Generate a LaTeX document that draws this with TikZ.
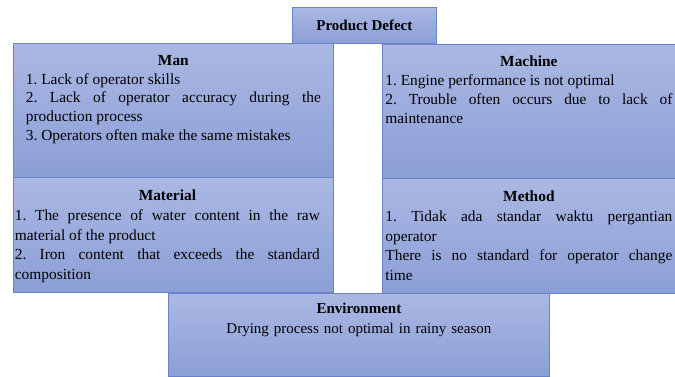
\documentclass[tikz,border=0pt]{standalone}
\usepackage{fontspec}
\setmainfont{Liberation Serif}
\usetikzlibrary{positioning}
\frenchspacing
\begin{document}
\begin{tikzpicture}[x=1pt, y=1pt,
  catbox/.style={draw=boxline, line width=0.8pt, top color=boxtop, bottom color=boxbot, anchor=north west, inner sep=0pt},
  cattext/.style={anchor=north, inner sep=0pt, align=justify, font=\rmfamily\fontsize{15.4}{18.8}\selectfont}]
\definecolor{boxtop}{HTML}{ABB8E3}
\definecolor{boxbot}{HTML}{8B9ED6}
\definecolor{boxline}{HTML}{6A82C8}
\useasboundingbox (0,0) rectangle (675,-376);
\node[catbox, minimum width=144, minimum height=36, font=\rmfamily\fontsize{15}{18}\selectfont\bfseries] (defect) at (292,-7) {Product Defect};
\node[catbox, minimum width=320, minimum height=134] (man) at (13,-43) {};
\node[catbox, minimum width=293, minimum height=134] (machine) at (382,-44) {};
\node[catbox, minimum width=320, minimum height=115] (material) at (13,-177) {};
\node[catbox, minimum width=293, minimum height=115] (method) at (382,-178) {};
\node[catbox, minimum width=381, minimum height=83] (environment) at (168,-293) {};
\node[cattext, text width=295, below=12pt of man.north] (mantext) {{\centering\textbf{Man}\par}
1. Lack of operator skills\par
2. Lack of operator accuracy during the\linebreak production process\par
3. Operators often make the same mistakes};
\node[cattext, text width=287, below=12pt of machine.north] (machinetext) {{\centering\textbf{Machine}\par}
1. Engine performance is not optimal\par
2. Trouble often occurs due to lack of\linebreak maintenance};
\node[cattext, text width=305, below=13pt of material.north, xshift=-6pt, font=\fontsize{15.4}{19.7}\selectfont] (materialtext) {{\centering\textbf{Material}\par}
1. The presence of water content in the raw\linebreak material of the product\par
2. Iron content that exceeds the standard\linebreak composition};
\node[cattext, text width=287, below=13pt of method.north, font=\fontsize{15.4}{19.7}\selectfont] (methodtext) {{\centering\textbf{Method}\par}
1. Tidak ada standar waktu pergantian\linebreak operator\par
There is no standard for operator change\linebreak time};
\node[cattext, text width=360, align=center, below=10pt of environment.north, font=\fontsize{15}{20}\selectfont] (environmenttext) {\textbf{Environment}\\
Drying process not optimal in rainy season};
\end{tikzpicture}
\end{document}
